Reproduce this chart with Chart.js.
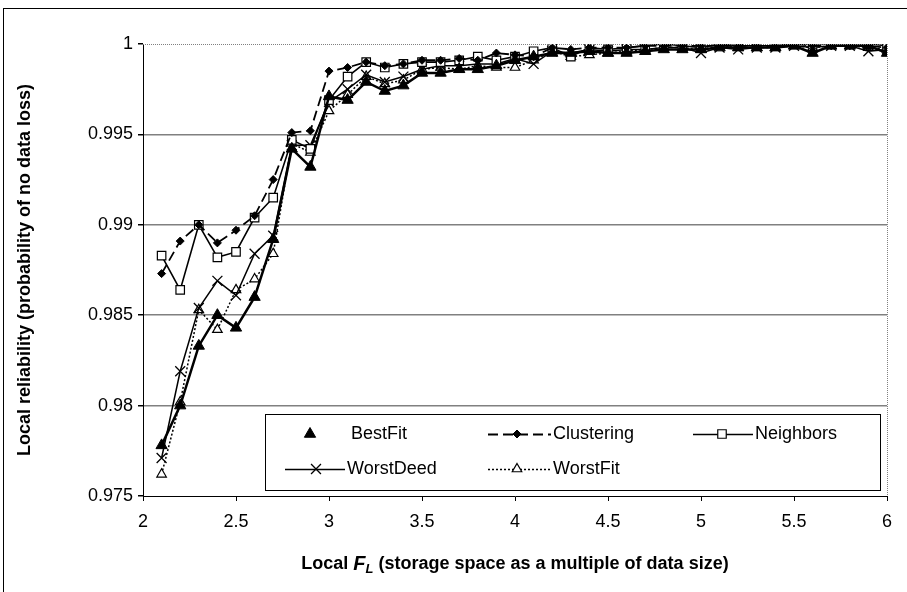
<!DOCTYPE html>
<html>
<head>
<meta charset="utf-8">
<script src="https://cdn.jsdelivr.net/npm/chart.js@4.4.1/dist/chart.umd.min.js"></script>
<style>
  body { margin: 0; background: #fff; }
  canvas { display: block; }
</style>
</head>
<body>
<canvas id="reliabilityChart" width="907" height="592"></canvas>
<script>
// x positions (Local F_L)
const xValues = [2.1, 2.2, 2.3, 2.4, 2.5, 2.6, 2.7, 2.8, 2.9, 3.0,
                 3.1, 3.2, 3.3, 3.4, 3.5, 3.6, 3.7, 3.8, 3.9, 4.0,
                 4.1, 4.2, 4.3, 4.4, 4.5, 4.6, 4.7, 4.8, 4.9, 5.0,
                 5.1, 5.2, 5.3, 5.4, 5.5, 5.6, 5.7, 5.8, 5.9, 6.0];

const bestFit = [0.9778, 0.9800, 0.9833, 0.9850, 0.9843, 0.9860, 0.9892, 0.9942, 0.9932, 0.9971,
                 0.9969, 0.9979, 0.9974, 0.9977, 0.9984, 0.9984, 0.9986, 0.9986, 0.9988, 0.9991,
                 0.9993, 0.9995, 0.9995, 0.9996, 0.9995, 0.9995, 0.9996, 0.9997, 0.9997, 0.9997,
                 0.9998, 0.9998, 0.9998, 0.9998, 0.9999, 0.9995, 0.9999, 0.9999, 0.9999, 0.9995];

const clustering = [0.9873, 0.9891, 0.9900, 0.9890, 0.9897, 0.9905, 0.9925, 0.9951, 0.9952, 0.9985,
                    0.9987, 0.9990, 0.9988, 0.9989, 0.9991, 0.9991, 0.9992, 0.9991, 0.9995, 0.9994,
                    0.9993, 0.9998, 0.9997, 0.9998, 0.9998, 0.9998, 0.9999, 0.9999, 0.9999, 0.9999,
                    0.9999, 0.9999, 0.9999, 0.9999, 1.0000, 0.9999, 0.9999, 0.9999, 0.9999, 0.9998];

const neighbors = [0.9883, 0.9864, 0.9900, 0.9882, 0.9885, 0.9904, 0.9915, 0.9947, 0.9942, 0.9969,
                   0.9982, 0.9990, 0.9987, 0.9989, 0.9990, 0.9990, 0.9991, 0.9993, 0.9991, 0.9993,
                   0.9996, 0.9998, 0.9993, 0.9998, 0.9997, 0.9998, 0.9999, 1.0000, 0.9999, 0.9998,
                   1.0000, 0.9999, 0.9999, 0.9999, 1.0000, 1.0000, 1.0000, 1.0000, 1.0000, 0.9999];

const worstDeed = [0.9771, 0.9819, 0.9854, 0.9869, 0.9861, 0.9884, 0.9894, 0.9944, 0.9944, 0.9968,
                   0.9975, 0.9983, 0.9979, 0.9982, 0.9986, 0.9988, 0.9988, 0.9989, 0.9989, 0.9992,
                   0.9989, 0.9996, 0.9995, 0.9997, 0.9996, 0.9997, 0.9997, 0.9998, 0.9998, 0.9995,
                   0.9998, 0.9997, 0.9998, 0.9998, 0.9999, 0.9998, 0.9999, 0.9999, 0.9996, 0.9997];

const worstFit = [0.9762, 0.9802, 0.9853, 0.9842, 0.9864, 0.9870, 0.9884, 0.9945, 0.9940, 0.9963,
                  0.9972, 0.9982, 0.9978, 0.9980, 0.9986, 0.9987, 0.9986, 0.9988, 0.9987, 0.9987,
                  0.9991, 0.9996, 0.9993, 0.9994, 0.9995, 0.9996, 0.9997, 0.9998, 0.9998, 0.9997,
                  0.9999, 0.9998, 0.9998, 0.9998, 0.9999, 0.9998, 0.9999, 0.9999, 0.9998, 0.9997];

const xTickLabels = ['2', '2.5', '3', '3.5', '4', '4.5', '5', '5.5', '6'];
const yTickLabels = ['0.975', '0.98', '0.985', '0.99', '0.995', '1'];

const FONT = '"Liberation Sans", Arial, sans-serif';

function points(values) {
    return values.map((v, i) => ({ x: xValues[i], y: v }));
}

// Legend layout: [dataset index, line start x, marker x, text x, row y]
const legendItems = [
    [0, null, 310, 351, 434],
    [1, 488, 517, 553, 434],
    [2, 693, 722, 755, 434],
    [3, 285, 316, 347, 469],
    [4, 488, 517, 553, 469]
];

const frameAndTextPlugin = {
    id: 'frameAndText',
    afterDraw(chart) {
        const ctx = chart.ctx;
        const area = chart.chartArea;
        ctx.save();

        // outer frame
        ctx.strokeStyle = '#000';
        ctx.lineWidth = 1;
        ctx.strokeRect(3.5, 8.5, 910, 590);

        // dotted top and right edge of the plot
        ctx.strokeStyle = '#808080';
        ctx.setLineDash([1, 1]);
        ctx.beginPath();
        ctx.moveTo(area.left, area.top + 0.5);
        ctx.lineTo(area.right + 0.5, area.top + 0.5);
        ctx.lineTo(area.right + 0.5, area.bottom);
        ctx.stroke();
        ctx.setLineDash([]);

        // legend box
        ctx.fillStyle = '#fff';
        ctx.fillRect(265, 414, 615, 76);
        ctx.strokeStyle = '#000';
        ctx.strokeRect(265.5, 414.5, 615, 76);

        ctx.font = '18px ' + FONT;
        ctx.textBaseline = 'middle';
        ctx.textAlign = 'left';
        legendItems.forEach(item => {
            const ds = chart.data.datasets[item[0]];
            const y = item[4];
            if (item[1] !== null) {
                ctx.strokeStyle = '#000';
                ctx.lineWidth = ds.borderWidth;
                ctx.setLineDash(ds.borderDash || []);
                ctx.beginPath();
                ctx.moveTo(item[1], y + 0.5);
                ctx.lineTo(item[3] - 2, y + 0.5);
                ctx.stroke();
                ctx.setLineDash([]);
            }
            ctx.fillStyle = ds.pointBackgroundColor;
            ctx.strokeStyle = '#000';
            ctx.lineWidth = ds.pointBorderWidth;
            Chart.helpers.drawPoint(ctx, {
                pointStyle: ds.pointStyle,
                radius: ds.pointRadius,
                rotation: 0,
                borderWidth: ds.pointBorderWidth
            }, item[2], y);
            ctx.fillStyle = '#000';
            ctx.fillText(ds.label, item[3], y);
        });

        // y axis title
        ctx.fillStyle = '#000';
        ctx.font = 'bold 18px ' + FONT;
        ctx.translate(25, (area.top + area.bottom) / 2);
        ctx.rotate(-Math.PI / 2);
        ctx.textAlign = 'center';
        ctx.fillText('Local reliability (probability of no data loss)', 0, 0);
        ctx.setTransform(1, 0, 0, 1, 0, 0);

        // x axis title with italic F and subscript L
        const parts = [
            ['Local ', 'bold 18px ' + FONT, 0],
            ['F', 'italic bold 20px ' + FONT, 0],
            ['L', 'italic bold 13px ' + FONT, 5],
            [' (storage space as a multiple of data size)', 'bold 18px ' + FONT, 0]
        ];
        let total = 0;
        parts.forEach(p => { ctx.font = p[1]; total += ctx.measureText(p[0]).width; });
        let x = (area.left + area.right) / 2 - total / 2;
        ctx.textAlign = 'left';
        ctx.textBaseline = 'middle';
        parts.forEach(p => {
            ctx.font = p[1];
            ctx.fillText(p[0], x, 564 + p[2]);
            x += ctx.measureText(p[0]).width;
        });
        ctx.restore();
    }
};

const ctx = document.getElementById('reliabilityChart').getContext('2d');
new Chart(ctx, {
    type: 'line',
    data: {
        datasets: [
            {
                label: 'BestFit', data: points(bestFit),
                borderColor: '#000', borderWidth: 2.5,
                pointStyle: 'triangle', pointRadius: 6.5, pointBorderWidth: 1,
                pointBackgroundColor: '#000', pointBorderColor: '#000'
            },
            {
                label: 'Clustering', data: points(clustering),
                borderColor: '#000', borderWidth: 1.8, borderDash: [10, 5],
                pointStyle: 'rectRot', pointRadius: 4, pointBorderWidth: 1,
                pointBackgroundColor: '#000', pointBorderColor: '#000'
            },
            {
                label: 'Neighbors', data: points(neighbors),
                borderColor: '#000', borderWidth: 1.6,
                pointStyle: 'rect', pointRadius: 6, pointBorderWidth: 1.2,
                pointBackgroundColor: '#fff', pointBorderColor: '#000'
            },
            {
                label: 'WorstDeed', data: points(worstDeed),
                borderColor: '#000', borderWidth: 1.5,
                pointStyle: 'crossRot', pointRadius: 7, pointBorderWidth: 1.3,
                pointBackgroundColor: '#000', pointBorderColor: '#000'
            },
            {
                label: 'WorstFit', data: points(worstFit),
                borderColor: '#000', borderWidth: 1.5, borderDash: [2, 2],
                pointStyle: 'triangle', pointRadius: 5.5, pointBorderWidth: 1.2,
                pointBackgroundColor: '#fff', pointBorderColor: '#000'
            }
        ]
    },
    options: {
        responsive: false,
        animation: false,
        layout: { padding: { top: 44, right: 20, left: 0, bottom: 0 } },
        plugins: {
            legend: { display: false },
            tooltip: { enabled: false }
        },
        elements: { line: { tension: 0 } },
        scales: {
            x: {
                type: 'linear', min: 2, max: 6,
                ticks: {
                    stepSize: 0.5, padding: 10,
                    color: '#000', font: { family: FONT, size: 18 },
                    callback: (v, i) => xTickLabels[i]
                },
                grid: { drawOnChartArea: false, drawTicks: true, tickLength: 5, tickColor: '#000' },
                border: { display: true, color: '#000', width: 1 },
                afterFit: s => { s.height = 96; }
            },
            y: {
                type: 'linear', min: 0.975, max: 1,
                ticks: {
                    stepSize: 0.005, padding: 5,
                    color: '#000', font: { family: FONT, size: 18 },
                    callback: (v, i) => yTickLabels[i]
                },
                grid: {
                    color: c => (c.index === 0 || c.index === yTickLabels.length - 1) ? 'rgba(0,0,0,0)' : '#808080',
                    lineWidth: 1.5,
                    drawTicks: true, tickLength: 5, tickColor: '#000'
                },
                border: { display: true, color: '#000', width: 1 },
                afterFit: s => { s.width = 143; }
            }
        }
    },
    plugins: [frameAndTextPlugin]
});
</script>
</body>
</html>
